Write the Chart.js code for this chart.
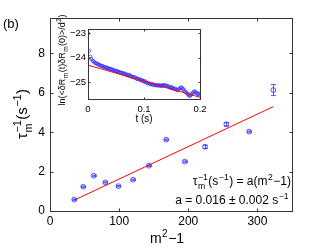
<!DOCTYPE html>
<html>
<head>
<meta charset="utf-8">
<script src="https://cdn.jsdelivr.net/npm/chart.js@4.4.1/dist/chart.umd.min.js"></script>
<style>
  html, body { margin: 0; padding: 0; background: #fff; overflow: hidden; }
  #wrap { position: relative; width: 322px; height: 251px; }
  canvas { position: absolute; left: 0; top: 0; }
</style>
</head>
<body>
<div id="wrap">
  <canvas id="main" width="322" height="251"></canvas>
  <canvas id="inset" width="322" height="251"></canvas>
</div>
<script>
// main panel: relaxation rate vs m^2-1
const M2 = [35, 48, 63, 80, 99, 120, 143, 168, 195, 224, 255, 288, 323];
const TAU_INV = [0.58, 1.23, 1.79, 1.45, 1.26, 1.59, 2.30, 3.62, 2.51, 3.26, 4.40, 4.03, 6.14];
const TAU_ERR = [0.03, 0.03, 0.03, 0.03, 0.03, 0.03, 0.03, 0.03, 0.03, 0.08, 0.08, 0.03, 0.28];
const FIT_X = [35, 323];
const FIT_Y = [0.55, 5.3];
const MAIN_X_TICKS = [0, 100, 200, 300];
const MAIN_Y_TICKS = [0, 2, 4, 6, 8];

// inset: log correlation vs time
const T = [
  0.000, 0.002, 0.004, 0.006, 0.008, 0.010, 0.012, 0.014, 0.016, 0.018,
  0.020, 0.022, 0.024, 0.026, 0.028, 0.030, 0.032, 0.034, 0.036, 0.038,
  0.040, 0.042, 0.044, 0.046, 0.048, 0.050, 0.052, 0.054, 0.056, 0.058,
  0.060, 0.062, 0.064, 0.066, 0.068, 0.070, 0.072, 0.074, 0.076, 0.078,
  0.080, 0.082, 0.084, 0.086, 0.088, 0.090, 0.092, 0.094, 0.096, 0.098,
  0.100, 0.102, 0.104, 0.106, 0.108, 0.110, 0.112, 0.114, 0.116, 0.118,
  0.120, 0.122, 0.124, 0.126, 0.128, 0.130, 0.132, 0.134, 0.136, 0.138,
  0.140, 0.142, 0.144, 0.146, 0.148, 0.150, 0.152, 0.154, 0.156, 0.158,
  0.160, 0.162, 0.164, 0.166, 0.168, 0.170, 0.172, 0.174, 0.176, 0.178,
  0.180, 0.182, 0.184, 0.186, 0.188, 0.190, 0.192, 0.194, 0.196, 0.198,
  0.200
];
const LNC = [
  -23.02, -23.72, -23.95, -24.05, -24.12, -24.15, -24.20, -24.22, -24.24, -24.27,
  -24.29, -24.31, -24.33, -24.34, -24.37, -24.38, -24.40, -24.41, -24.43, -24.44,
  -24.46, -24.47, -24.49, -24.51, -24.52, -24.55, -24.54, -24.57, -24.59, -24.60,
  -24.61, -24.64, -24.63, -24.66, -24.69, -24.68, -24.72, -24.70, -24.74, -24.77,
  -24.78, -24.80, -24.79, -24.84, -24.86, -24.85, -24.88, -24.91, -24.90, -24.94,
  -24.97, -24.95, -25.00, -25.03, -25.02, -25.06, -25.08, -25.05, -25.10, -25.09,
  -25.12, -25.10, -25.13, -25.11, -25.14, -25.12, -25.15, -25.10, -25.13, -25.11,
  -25.14, -25.17, -25.15, -25.20, -25.22, -25.19, -25.24, -25.27, -25.25, -25.29,
  -25.31, -25.28, -25.24, -25.20, -25.22, -25.27, -25.33, -25.38, -25.42, -25.47,
  -25.52, -25.55, -25.50, -25.45, -25.40, -25.36, -25.38, -25.44, -25.47, -25.45,
  -25.50
];
const INSET_FIT_X = [0, 0.2];
const INSET_FIT_Y = [-24.3, -25.6];
const INSET_X_TICKS = [0, 0.1, 0.2];
const INSET_Y_TICKS = [-25, -24, -23];

const FONT = '"Liberation Sans", Arial, sans-serif';
const BLUE = 'rgba(20,20,255,0.7)';
const RED = '#ff0000';
const minus = v => String(v).replace('-', '\u2212');

// rich text: strings are plain, objects {sub, sup} are stacked scripts
function richWidth(ctx, parts, size) {
  let w = 0;
  parts.forEach(p => {
    if (typeof p === 'string') { ctx.font = size + 'px ' + FONT; w += ctx.measureText(p).width; }
    else {
      ctx.font = (size * 0.72) + 'px ' + FONT;
      w += Math.max(p.sub ? ctx.measureText(p.sub).width : 0, p.sup ? ctx.measureText(p.sup).width : 0) + 1;
    }
  });
  return w;
}

function drawRich(ctx, parts, x, y, size, align, angle) {
  ctx.save();
  ctx.translate(x, y);
  ctx.rotate(angle || 0);
  const w = richWidth(ctx, parts, size);
  let cx = align === 'right' ? -w : align === 'center' ? -w / 2 : 0;
  ctx.textAlign = 'left';
  ctx.textBaseline = 'alphabetic';
  ctx.fillStyle = '#000';
  parts.forEach(p => {
    if (typeof p === 'string') {
      ctx.font = size + 'px ' + FONT;
      ctx.fillText(p, cx, 0);
      cx += ctx.measureText(p).width;
    } else {
      ctx.font = (size * 0.72) + 'px ' + FONT;
      let mw = 0;
      if (p.sup) { ctx.fillText(p.sup, cx + 0.5, -size * 0.42); mw = Math.max(mw, ctx.measureText(p.sup).width); }
      if (p.sub) { ctx.fillText(p.sub, cx + 0.5, size * 0.3); mw = Math.max(mw, ctx.measureText(p.sub).width); }
      cx += mw + 1;
    }
  });
  ctx.restore();
}

// box with inward ticks on all four sides
function framePlugin(xt, yt, len) {
  return {
    id: 'frame',
    afterDraw(chart) {
      const { ctx, chartArea: a, scales: { x, y } } = chart;
      ctx.save();
      ctx.strokeStyle = '#333';
      ctx.lineWidth = 1;
      const l = Math.round(a.left) + 0.5, r = Math.round(a.right) + 0.5;
      const t = Math.round(a.top) + 0.5, b = Math.round(a.bottom) + 0.5;
      ctx.strokeRect(l, t, r - l, b - t);
      ctx.beginPath();
      xt.forEach(v => {
        const px = Math.round(x.getPixelForValue(v)) + 0.5;
        ctx.moveTo(px, b); ctx.lineTo(px, b - len);
        ctx.moveTo(px, t); ctx.lineTo(px, t + len);
      });
      yt.forEach(v => {
        const py = Math.round(y.getPixelForValue(v)) + 0.5;
        ctx.moveTo(l, py); ctx.lineTo(l + len, py);
        ctx.moveTo(r, py); ctx.lineTo(r - len, py);
      });
      ctx.stroke();
      ctx.restore();
    }
  };
}

const errorBars = {
  id: 'errorBars',
  afterDatasetsDraw(chart) {
    const { ctx, scales: { x, y } } = chart;
    ctx.save();
    ctx.strokeStyle = BLUE;
    ctx.lineWidth = 1;
    ctx.beginPath();
    M2.forEach((m, i) => {
      const px = Math.round(x.getPixelForValue(m)) + 0.5;
      const y1 = y.getPixelForValue(TAU_INV[i] + TAU_ERR[i]);
      const y2 = y.getPixelForValue(TAU_INV[i] - TAU_ERR[i]);
      ctx.moveTo(px, y1); ctx.lineTo(px, y2);
      ctx.moveTo(px - 2.5, y1); ctx.lineTo(px + 2.5, y1);
      ctx.moveTo(px - 2.5, y2); ctx.lineTo(px + 2.5, y2);
    });
    ctx.stroke();
    ctx.restore();
  }
};

const mainLabels = {
  id: 'mainLabels',
  afterDraw(chart) {
    const ctx = chart.ctx;
    ctx.save();
    ctx.font = '13px ' + FONT;
    ctx.fillStyle = '#000';
    ctx.textAlign = 'left';
    ctx.fillText('(b)', 3, 28);
    ctx.restore();
    drawRich(ctx, ['\u03c4', { sub: 'm', sup: '\u22121' }, '(s', { sup: '\u22121' }, ')'], 27, 114, 15, 'center', -Math.PI / 2);
    drawRich(ctx, ['m', { sup: '2' }, '\u22121'], 167, 243, 14, 'center');
    drawRich(ctx, ['\u03c4', { sub: 'm', sup: '\u22121' }, '(s', { sup: '\u22121' }, ') = a(m', { sup: '2' }, '\u22121)'], 291, 185, 12, 'right');
    drawRich(ctx, ['a = 0.016 \u00b1 0.002 s', { sup: '\u22121' }], 289, 204, 12, 'right');
  }
};

const insetLabels = {
  id: 'insetLabels',
  afterDraw(chart) {
    const ctx = chart.ctx;
    drawRich(ctx, ['ln(<\u03b4R', { sub: 'm' }, '(t)\u03b4R', { sub: 'm' }, '(0)>/d', { sup: '2' }, ')'], 65, 60, 9, 'center', -Math.PI / 2);
    drawRich(ctx, ['t (s)'], 144, 122, 10, 'center');
  }
};

const fixedTicks = list => scale => { scale.ticks = list.map(v => ({ value: v })); };

new Chart(document.getElementById('main'), {
  type: 'scatter',
  data: {
    datasets: [
      {
        data: FIT_X.map((x, i) => ({ x, y: FIT_Y[i] })),
        showLine: true, borderColor: RED, borderWidth: 1, pointRadius: 0, fill: false
      },
      {
        data: M2.map((x, i) => ({ x, y: TAU_INV[i] })),
        pointStyle: 'circle', pointRadius: 2.4, borderColor: BLUE, borderWidth: 1,
        backgroundColor: 'rgba(0,0,0,0)'
      }
    ]
  },
  options: {
    responsive: false,
    animation: false,
    layout: { padding: { top: 18, right: 30, left: 0, bottom: 0 } },
    plugins: { legend: { display: false }, tooltip: { enabled: false } },
    scales: {
      x: {
        type: 'linear', min: 0, max: 350,
        afterBuildTicks: fixedTicks(MAIN_X_TICKS),
        afterFit: s => { s.height = 40; },
        grid: { display: false, drawTicks: false }, border: { display: false },
        ticks: { color: '#000', font: { family: FONT, size: 12 }, padding: 3.5, maxRotation: 0 }
      },
      y: {
        type: 'linear', min: 0, max: 9.8,
        afterBuildTicks: fixedTicks(MAIN_Y_TICKS),
        afterFit: s => { s.width = 50; },
        grid: { display: false, drawTicks: false }, border: { display: false },
        ticks: { color: '#000', font: { family: FONT, size: 12 }, padding: 5 }
      }
    }
  },
  plugins: [framePlugin(MAIN_X_TICKS, MAIN_Y_TICKS, 3), errorBars, mainLabels]
});

new Chart(document.getElementById('inset'), {
  type: 'scatter',
  data: {
    datasets: [
      {
        data: INSET_FIT_X.map((x, i) => ({ x, y: INSET_FIT_Y[i] })),
        showLine: true, borderColor: RED, borderWidth: 1, pointRadius: 0, fill: false
      },
      {
        data: T.map((x, i) => ({ x, y: LNC[i] })),
        pointStyle: 'circle', pointRadius: 1.6, borderColor: BLUE, borderWidth: 0.9,
        backgroundColor: 'rgba(0,0,0,0)'
      }
    ]
  },
  options: {
    responsive: false,
    animation: false,
    layout: { padding: { top: 29, right: 122, left: 0, bottom: 0 } },
    plugins: { legend: { display: false }, tooltip: { enabled: false } },
    scales: {
      x: {
        type: 'linear', min: 0, max: 0.2,
        afterBuildTicks: fixedTicks(INSET_X_TICKS),
        afterFit: s => { s.height = 152; },
        grid: { display: false, drawTicks: false }, border: { display: false },
        ticks: { color: '#000', font: { family: FONT, size: 9.5 }, padding: 5, maxRotation: 0 }
      },
      y: {
        type: 'linear', min: -25.67, max: -22.84,
        afterBuildTicks: fixedTicks(INSET_Y_TICKS),
        afterFit: s => { s.width = 88; },
        grid: { display: false, drawTicks: false }, border: { display: false },
        ticks: { color: '#000', font: { family: FONT, size: 9.5 }, padding: 2, callback: v => minus(v) }
      }
    }
  },
  plugins: [framePlugin(INSET_X_TICKS, INSET_Y_TICKS, 2), insetLabels]
});
</script>
</body>
</html>
